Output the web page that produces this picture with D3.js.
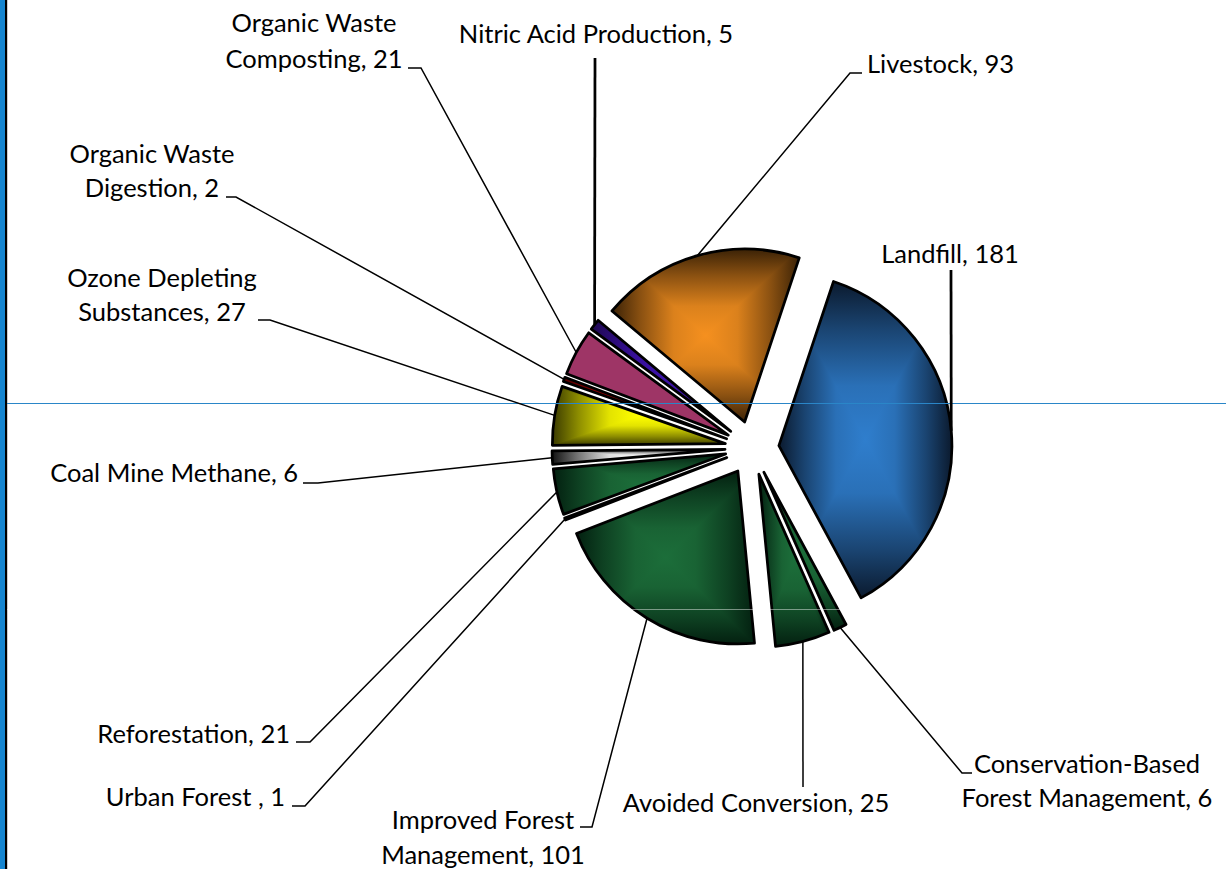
<!DOCTYPE html>
<html>
<head>
<meta charset="utf-8">
<script src="https://cdn.jsdelivr.net/npm/d3@7/dist/d3.min.js"></script>
<style>
  html, body { margin: 0; padding: 0; background: #fff; }
  svg { display: block; }
  text { font-family: Lato, "Open Sans", sans-serif; font-size: 25.5px; fill: #000; }
</style>
</head>
<body>
<svg id="chart" width="1226" height="869"></svg>
<script>
// ---------------- data ----------------
const categories = [
  "Landfill",
  "Conservation-Based Forest Management",
  "Avoided Conversion",
  "Improved Forest Management",
  "Urban Forest ",
  "Reforestation",
  "Coal Mine Methane",
  "Ozone Depleting Substances",
  "Organic Waste Digestion",
  "Organic Waste Composting",
  "Nitric Acid Production",
  "Livestock"
];
const values = [181, 6, 25, 101, 1, 21, 6, 27, 2, 21, 5, 93];

// slice colours: centre (light) and edge (dark)
const lightColors = ["#2f7ecd", "#1c6e3a", "#1c6e3a", "#1c6e3a", "#1c6e3a", "#1c6e3a",
                     "#ffffff", "#ffff00", "#b00000", "#9e3566", "#3c12a8", "#f5901f"];
const darkColors  = ["#0b1a2e", "#032010", "#032010", "#032010", "#032010", "#032010",
                     "#111111", "#3a3a00", "#500000", "#9e3566", "#1e0850", "#3b2206"];

// label layout: words on first line (0 = single line), anchor, x, baselines, leader start points
const labelLayout = [
  { first: 0, anchor: "middle", x: 950,  ys: [263],      pts: [[951, 270]], thick: true },
  { first: 1, anchor: "middle", x: 1087, ys: [773, 807], pts: [[972, 773], [962, 773]] },
  { first: 0, anchor: "middle", x: 756,  ys: [812],      pts: [[803, 787]] },
  { first: 2, anchor: "middle", x: 483,  ys: [829, 864], pts: [[580, 827], [592, 827]] },
  { first: 0, anchor: "end",    x: 285,  ys: [806],      pts: [[292, 806], [305, 806]] },
  { first: 0, anchor: "end",    x: 290,  ys: [743],      pts: [[296, 742], [310, 742]] },
  { first: 0, anchor: "end",    x: 298,  ys: [482],      pts: [[303, 483], [318, 483]] },
  { first: 2, anchor: "middle", x: 162,  ys: [287, 321], pts: [[258, 320], [270, 320]] },
  { first: 2, anchor: "middle", x: 152,  ys: [163, 197], pts: [[226, 197], [236, 197]] },
  { first: 2, anchor: "middle", x: 314,  ys: [32, 68],   pts: [[408, 68], [421, 68]] },
  { first: 0, anchor: "middle", x: 596,  ys: [43],       pts: [[595, 58]], thick: true },
  { first: 0, anchor: "start",  x: 867,  ys: [73],       pts: [[862, 73], [850, 73]] }
];

// ---------------- geometry ----------------
const W = 1226, H = 869;
const cx = 752, cy = 448, R = 173, explode = 27;
const startDeg = 18.4;
const start = startDeg * Math.PI / 180;

const svg = d3.select("#chart");
const defs = svg.append("defs");

// frame on the left
svg.append("rect").attr("x", 0).attr("y", 0).attr("width", 5).attr("height", H).attr("fill", "#1585d0");
svg.append("rect").attr("x", 5).attr("y", 0).attr("width", 2.2).attr("height", H).attr("fill", "#000");

const pie = d3.pie().sort(null).value(d => d).startAngle(start).endAngle(start + 2 * Math.PI);
const arcs = pie(values);
const arcGen = d3.arc().innerRadius(0).outerRadius(R);

const pieG = svg.append("g");

arcs.forEach((a, i) => {
  const mid = (a.startAngle + a.endAngle) / 2;
  const ox = explode * Math.sin(mid), oy = -explode * Math.cos(mid);
  const g = pieG.append("g").attr("transform", `translate(${cx + ox},${cy + oy})`);
  const d = arcGen(a);

  const tmp = g.append("path").attr("d", d).attr("fill", "none");
  const bb = tmp.node().getBBox();
  tmp.remove();
  const x0 = bb.x, y0 = bb.y, x1 = bb.x + bb.width, y1 = bb.y + bb.height;
  const mx = (x0 + x1) / 2, my = (y0 + y1) / 2;

  const mixc = d3.interpolateRgb(darkColors[i], lightColors[i]);
  const stops = [[0, mixc(0)], [0.15, mixc(0.42)], [0.33, mixc(0.86)], [0.5, mixc(1)],
                 [0.67, mixc(0.86)], [0.85, mixc(0.42)], [1, mixc(0)]];
  const gh = defs.append("linearGradient").attr("id", "gh" + i)
    .attr("gradientUnits", "userSpaceOnUse")
    .attr("x1", x0).attr("y1", 0).attr("x2", x1).attr("y2", 0);
  const gv = defs.append("linearGradient").attr("id", "gv" + i)
    .attr("gradientUnits", "userSpaceOnUse")
    .attr("x1", 0).attr("y1", y0).attr("x2", 0).attr("y2", y1);
  stops.forEach(s => {
    gh.append("stop").attr("offset", s[0]).attr("stop-color", s[1]);
    gv.append("stop").attr("offset", s[0]).attr("stop-color", s[1]);
  });

  defs.append("clipPath").attr("id", "clip" + i).append("path").attr("d", d);

  const cg = g.append("g").attr("clip-path", `url(#clip${i})`);
  cg.append("rect").attr("x", x0 - 1).attr("y", y0 - 1)
    .attr("width", bb.width + 2).attr("height", bb.height + 2)
    .attr("fill", `url(#gh${i})`);
  cg.append("path")
    .attr("d", `M${x0},${y0}L${x1},${y0}L${mx},${my}ZM${x0},${y1}L${x1},${y1}L${mx},${my}Z`)
    .attr("fill", `url(#gv${i})`);

  g.append("path").attr("d", d).attr("fill", "none")
    .attr("stroke", "#000").attr("stroke-width", 2.75).attr("stroke-linejoin", "round");
});

// horizontal lines drawn over the plot
svg.append("line").attr("x1", 7).attr("x2", W).attr("y1", 403.5).attr("y2", 403.5)
  .attr("stroke", "#2a86c8").attr("stroke-width", 1);
svg.append("line").attr("x1", 7).attr("x2", W).attr("y1", 609.5).attr("y2", 609.5)
  .attr("stroke", "#ffffff").attr("stroke-opacity", 0.45).attr("stroke-width", 1);

// ---------------- labels & leaders ----------------
const lab = svg.append("g");
arcs.forEach((a, i) => {
  const L = labelLayout[i];
  const mid = (a.startAngle + a.endAngle) / 2;
  const rr = R + explode;
  const end = [cx + rr * Math.sin(mid), cy - rr * Math.cos(mid)];
  const pts = L.pts.concat([end]);
  lab.append("path").attr("d", d3.line()(pts)).attr("fill", "none")
    .attr("stroke", "#000").attr("stroke-width", L.thick ? 2.75 : 1.5);

  let lines;
  if (L.first > 0) {
    const words = categories[i].split(" ");
    lines = [words.slice(0, L.first).join(" "), `${words.slice(L.first).join(" ")}, ${values[i]}`];
  } else {
    lines = [`${categories[i]}, ${values[i]}`];
  }
  lines.forEach((t, k) => {
    lab.append("text").attr("x", L.x).attr("y", L.ys[k])
      .attr("text-anchor", L.anchor).text(t);
  });
});
</script>
</body>
</html>
